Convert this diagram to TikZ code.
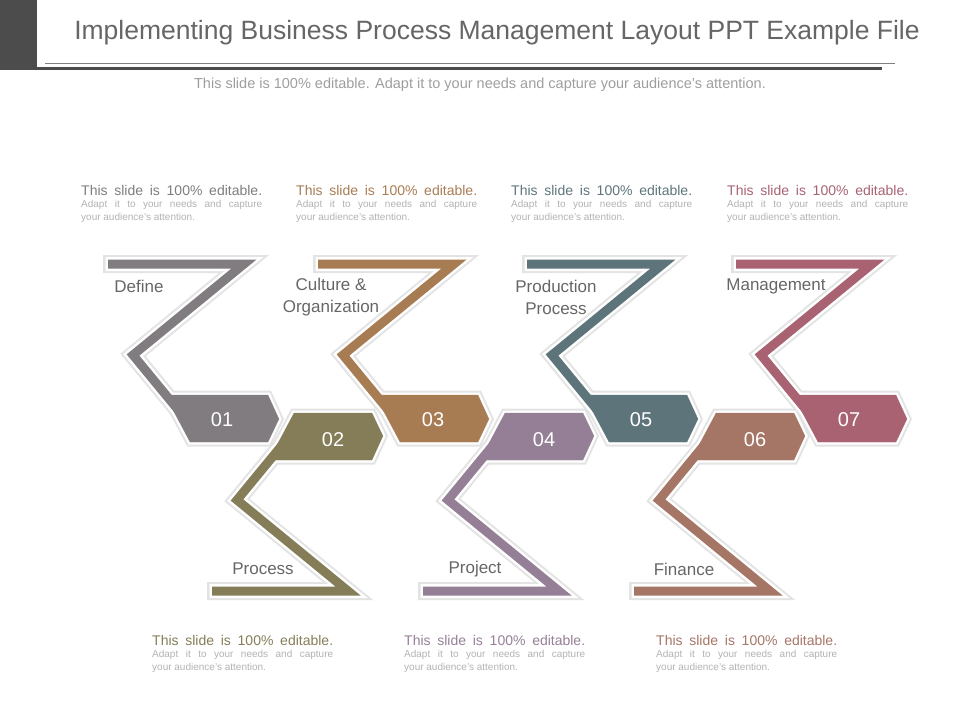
\documentclass[tikz,border=0pt]{standalone}
\usepackage{fontspec}
\setmainfont{Liberation Sans}
\usepackage{xcolor}
\usetikzlibrary{positioning}

\definecolor{c01}{RGB}{128,124,128}
\definecolor{c02}{RGB}{133,125,88}
\definecolor{c03}{RGB}{168,124,83}
\definecolor{c04}{RGB}{149,127,151}
\definecolor{c05}{RGB}{94,116,123}
\definecolor{c06}{RGB}{165,117,101}
\definecolor{c07}{RGB}{168,98,114}

\begin{document}
\begin{tikzpicture}[
    x=1pt, y=-1pt,
    zcol/.code={\colorlet{zc}{#1}},
    steplabel/.style={font=\fontsize{17}{22}\selectfont, text=black!60, align=center, inner sep=0pt},
    numlabel/.style={font=\fontsize{20}{20}\selectfont, text=white, inner sep=0pt},
    blurbline/.style={anchor=base west, inner sep=0pt, text=black!30, font=\fontsize{10}{10}\selectfont},
    zstep/.pic={
        % halo, white rim, then the colour itself
        \foreach \sw/\pw/\ext/\rim in {18/9/5/black!11, 14/5/2.5/white, 9/0.1/0/zc} {
            \draw[\rim, line width=\sw pt] ({-171-\ext},-155) -- (-35,-155) -- (-146,-64) -- (-95,-2);
            \path[draw=\rim, fill=\rim, line width=\pw pt] (-114,-24) -- (-11,-24) -- (0,0) -- (-11,23) -- (-89,23) -- cycle;
        }
    },
    blurb/.pic={
        \node[blurbline, text=zc, font=\fontsize{14}{14}\selectfont] (-head) at (0,0) {\makebox[181pt][s]{This slide is 100\% editable.}};
        \node[blurbline] (-body) at (0,12.5) {\makebox[181pt][s]{Adapt it to your needs and capture}};
        \node[blurbline] (-tail) at (0,25.5) {your audience's attention.};
    }
]
    \useasboundingbox (0,0) rectangle (960,720);

    % Header
    \fill[black!70] (0,0) rectangle (37,70);
    \node[font=\fontsize{26.5}{30}\selectfont, text=black!60] (title) at (497,33) {Implementing Business Process Management Layout PPT Example File};
    \draw[black!50, line width=1pt] (45,63.5) -- (895,63.5);
    \draw[black!70, line width=2.5pt] (37,68.5) -- (882,68.5);
    \node[font=\fontsize{14.5}{14.5}\selectfont, text=black!38] (subtitle) at (480,85) {This slide is 100\% editable. Adapt it to your needs and capture your audience's attention.};

    % Z steps
    \pic[zcol=c01] (z01) at (279,419) {zstep};
    \pic[zcol=c02, yscale=-1] (z02) at (383,436) {zstep};
    \pic[zcol=c03] (z03) at (489,419) {zstep};
    \pic[zcol=c04, yscale=-1] (z04) at (594,436) {zstep};
    \pic[zcol=c05] (z05) at (698,419) {zstep};
    \pic[zcol=c06, yscale=-1] (z06) at (805,436) {zstep};
    \pic[zcol=c07] (z07) at (907,419) {zstep};

    % Step numbers
    \node[numlabel] (n01) at (222,420) {01};
    \node[numlabel] (n02) at (333,440) {02};
    \node[numlabel] (n03) at (433,420) {03};
    \node[numlabel] (n04) at (544,440) {04};
    \node[numlabel] (n05) at (641,420) {05};
    \node[numlabel] (n06) at (755,440) {06};
    \node[numlabel] (n07) at (849,420) {07};

    % Step titles
    \node[steplabel] (define) at (139,286) {Define};
    \node[steplabel] (culture) at (331,297) {Culture \&\\Organization};
    \node[steplabel] (production) at (556,297) {Production\\Process};
    \node[steplabel] (management) at (776,286) {Management};
    \node[steplabel] (process) at (263,569) {Process};
    \node[steplabel] (project) at (475,569) {Project};
    \node[steplabel] (finance) at (684,569) {Finance};

    % Text blocks
    \pic[zcol=c01] (b01) at (81,195) {blurb};
    \pic[zcol=c03] (b03) at (296,195) {blurb};
    \pic[zcol=c05] (b05) at (511,195) {blurb};
    \pic[zcol=c07] (b07) at (727,195) {blurb};
    \pic[zcol=c02] (b02) at (152,645) {blurb};
    \pic[zcol=c04] (b04) at (404,645) {blurb};
    \pic[zcol=c06] (b06) at (656,645) {blurb};
\end{tikzpicture}
\end{document}
